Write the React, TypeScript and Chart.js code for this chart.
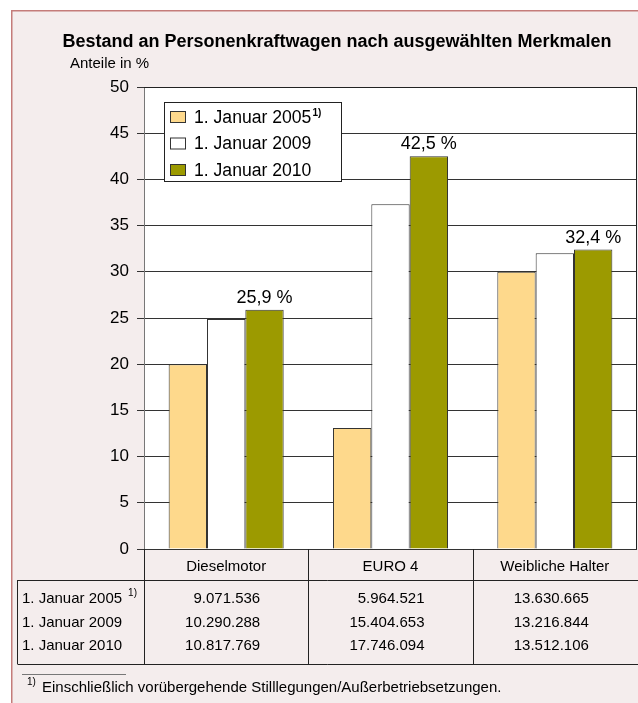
import React, { useEffect, useRef } from "react";
import { Chart, registerables } from "chart.js";

Chart.register(...registerables);

const chartTitle = "Bestand an Personenkraftwagen nach ausgewählten Merkmalen";
const yAxisTitle = "Anteile in %";
const categories = ["Dieselmotor", "EURO 4", "Weibliche Halter"];
const seriesLabels = ["1. Januar 2005", "1. Januar 2009", "1. Januar 2010"];
const values2005 = [20.0, 13.1, 30.0];
const values2009 = [24.9, 37.3, 32.0];
const values2010 = [25.9, 42.5, 32.4];
const barLabels2010 = ["25,9 %", "42,5 %", "32,4 %"];
const yTicks = [0, 5, 10, 15, 20, 25, 30, 35, 40, 45, 50];
const table2005 = ["9.071.536", "5.964.521", "13.630.665"];
const table2009 = ["10.290.288", "15.404.653", "13.216.844"];
const table2010 = ["10.817.769", "17.746.094", "13.512.106"];
const footnoteMark = "1)";
const footnoteText = "Einschließlich vorübergehende Stilllegungen/Außerbetriebsetzungen.";

const FONT = "'Liberation Sans', Arial, Helvetica, sans-serif";
const COLORS = ["#fed98c", "#ffffff", "#9c9a00"];

const customPlugin = {
  id: "custom",
  beforeDraw(chart: any) {
    const ctx = chart.ctx;
    const ca = chart.chartArea;
    ctx.save();
    ctx.fillStyle = "#ffffff";
    ctx.fillRect(0, 0, chart.width, chart.height);
    ctx.fillStyle = "#f4eded";
    ctx.fillRect(12, 11, chart.width - 12, chart.height - 11);
    ctx.strokeStyle = "#c47c7a";
    ctx.lineWidth = 1.5;
    ctx.beginPath();
    ctx.moveTo(11.75, chart.height);
    ctx.lineTo(11.75, 10.75);
    ctx.lineTo(chart.width, 10.75);
    ctx.stroke();
    ctx.fillStyle = "#ffffff";
    ctx.fillRect(ca.left, ca.top, ca.right - ca.left, ca.bottom - ca.top);
    ctx.restore();
  },
  afterDraw(chart: any) {
    const ctx = chart.ctx;
    const ca = chart.chartArea;
    const x = chart.scales.x;
    ctx.save();

    // plot frame (top, right)
    ctx.strokeStyle = "#222";
    ctx.lineWidth = 1;
    ctx.beginPath();
    ctx.moveTo(ca.left, Math.round(ca.top) + 0.5);
    ctx.lineTo(Math.round(ca.right) - 0.5, Math.round(ca.top) + 0.5);
    ctx.lineTo(Math.round(ca.right) - 0.5, Math.round(ca.bottom));
    ctx.stroke();

    // title
    ctx.fillStyle = "#000";
    ctx.textBaseline = "middle";
    ctx.textAlign = "center";
    ctx.font = `bold 18px ${FONT}`;
    ctx.fillText(chartTitle, 337, 42);
    ctx.textAlign = "left";
    ctx.font = `15px ${FONT}`;
    ctx.fillText(yAxisTitle, 70, 64);

    // bar labels
    const meta = chart.getDatasetMeta(2);
    ctx.font = `18px ${FONT}`;
    ctx.textAlign = "center";
    ctx.textBaseline = "alphabetic";
    meta.data.forEach((bar: any, i: number) => {
      ctx.fillText(barLabels2010[i], bar.x, bar.y - 7);
    });

    // legend
    const lx = 164, ly = 102, lw = 177, lh = 79;
    ctx.fillStyle = "#fff";
    ctx.fillRect(lx, ly, lw, lh);
    ctx.strokeStyle = "#222";
    ctx.strokeRect(lx + 0.5, ly + 0.5, lw, lh);
    chart.data.datasets.forEach((ds: any, i: number) => {
      const cy = 117 + i * 26.5;
      ctx.fillStyle = ds.backgroundColor;
      ctx.fillRect(170, cy - 5.5, 15, 11);
      ctx.strokeStyle = "#333";
      ctx.strokeRect(170.5, cy - 5.5, 15, 11);
      ctx.fillStyle = "#000";
      ctx.textAlign = "left";
      ctx.textBaseline = "middle";
      ctx.font = `17.6px ${FONT}`;
      ctx.fillText(ds.label, 194, cy + 1);
      if (i === 0) {
        const w = ctx.measureText(ds.label).width;
        ctx.font = `bold 10px ${FONT}`;
        ctx.fillText(footnoteMark, 194 + w + 1, cy - 4);
      }
    });

    // table
    const centers = categories.map((_, i) => x.getPixelForValue(i));
    const seps = [ca.left];
    for (let i = 0; i < centers.length - 1; i++) seps.push((centers[i] + centers[i + 1]) / 2);
    const tTop = 580, tBot = 664;
    ctx.strokeStyle = "#222";
    ctx.lineWidth = 1;
    ctx.beginPath();
    seps.forEach((s) => {
      const sx = Math.round(s) + 0.5;
      ctx.moveTo(sx, ca.bottom);
      ctx.lineTo(sx, tBot);
    });
    ctx.moveTo(17.5, tTop + 0.5);
    ctx.lineTo(chart.width, tTop + 0.5);
    ctx.moveTo(17.5, tBot + 0.5);
    ctx.lineTo(chart.width, tBot + 0.5);
    ctx.moveTo(17.5, tTop);
    ctx.lineTo(17.5, tBot);
    ctx.stroke();

    ctx.fillStyle = "#000";
    ctx.font = `15px ${FONT}`;
    ctx.textBaseline = "middle";
    ctx.textAlign = "center";
    categories.forEach((c, i) => ctx.fillText(c, centers[i], 567));

    const rows = [table2005, table2009, table2010];
    const rowY = [599, 623, 646];
    rows.forEach((row, r) => {
      ctx.textAlign = "left";
      ctx.font = `15px ${FONT}`;
      ctx.fillText(seriesLabels[r], 22, rowY[r]);
      if (r === 0) {
        const w = ctx.measureText(seriesLabels[r]).width;
        ctx.font = `10px ${FONT}`;
        ctx.fillText(footnoteMark, 22 + w + 6, rowY[r] - 6);
        ctx.font = `15px ${FONT}`;
      }
      ctx.textAlign = "right";
      row.forEach((v, i) => ctx.fillText(v, centers[i] + 34, rowY[r]));
    });

    // footnote
    ctx.strokeStyle = "#777";
    ctx.beginPath();
    ctx.moveTo(22, 674.5);
    ctx.lineTo(126, 674.5);
    ctx.stroke();
    ctx.textAlign = "left";
    ctx.font = `10px ${FONT}`;
    ctx.fillText(footnoteMark, 27, 682);
    ctx.font = `15px ${FONT}`;
    ctx.fillText(footnoteText, 42, 688);

    ctx.restore();
  },
};

export default function App() {
  const ref = useRef<HTMLCanvasElement | null>(null);
  useEffect(() => {
    if (!ref.current) return;
    const chart = new Chart(ref.current, {
      type: "bar",
      data: {
        labels: categories,
        datasets: [values2005, values2009, values2010].map((vals, i) => ({
          label: seriesLabels[i],
          data: vals,
          backgroundColor: COLORS[i],
          borderColor: "#333",
          borderWidth: 1,
          categoryPercentage: 0.7,
          barPercentage: 1.0,
        })),
      },
      options: {
        animation: false,
        responsive: false,
        devicePixelRatio: 1,
        layout: { padding: { left: 0, top: 87, right: 1, bottom: 154 } },
        plugins: {
          legend: { display: false },
          title: { display: false },
          tooltip: { enabled: false },
        },
        scales: {
          x: { display: false },
          y: {
            min: 0,
            max: 50,
            afterFit: (scale: any) => {
              scale.width = 144;
            },
            afterBuildTicks: (scale: any) => {
              scale.ticks = yTicks.map((v) => ({ value: v }));
            },
            grid: { color: "#333", lineWidth: 1, tickLength: 7, tickColor: "#333", drawTicks: true },
            border: { display: true, color: "#777", width: 1 },
            ticks: {
              color: "#000",
              padding: 8,
              font: { family: FONT, size: 17 },
            },
          },
        },
      },
      plugins: [customPlugin],
    });
    return () => chart.destroy();
  }, []);
  return (
    <div style={{ position: "absolute", left: 0, top: 0, width: 638, height: 703 }}>
      <canvas ref={ref} width={638} height={703} style={{ display: "block", width: 638, height: 703 }} />
    </div>
  );
}
